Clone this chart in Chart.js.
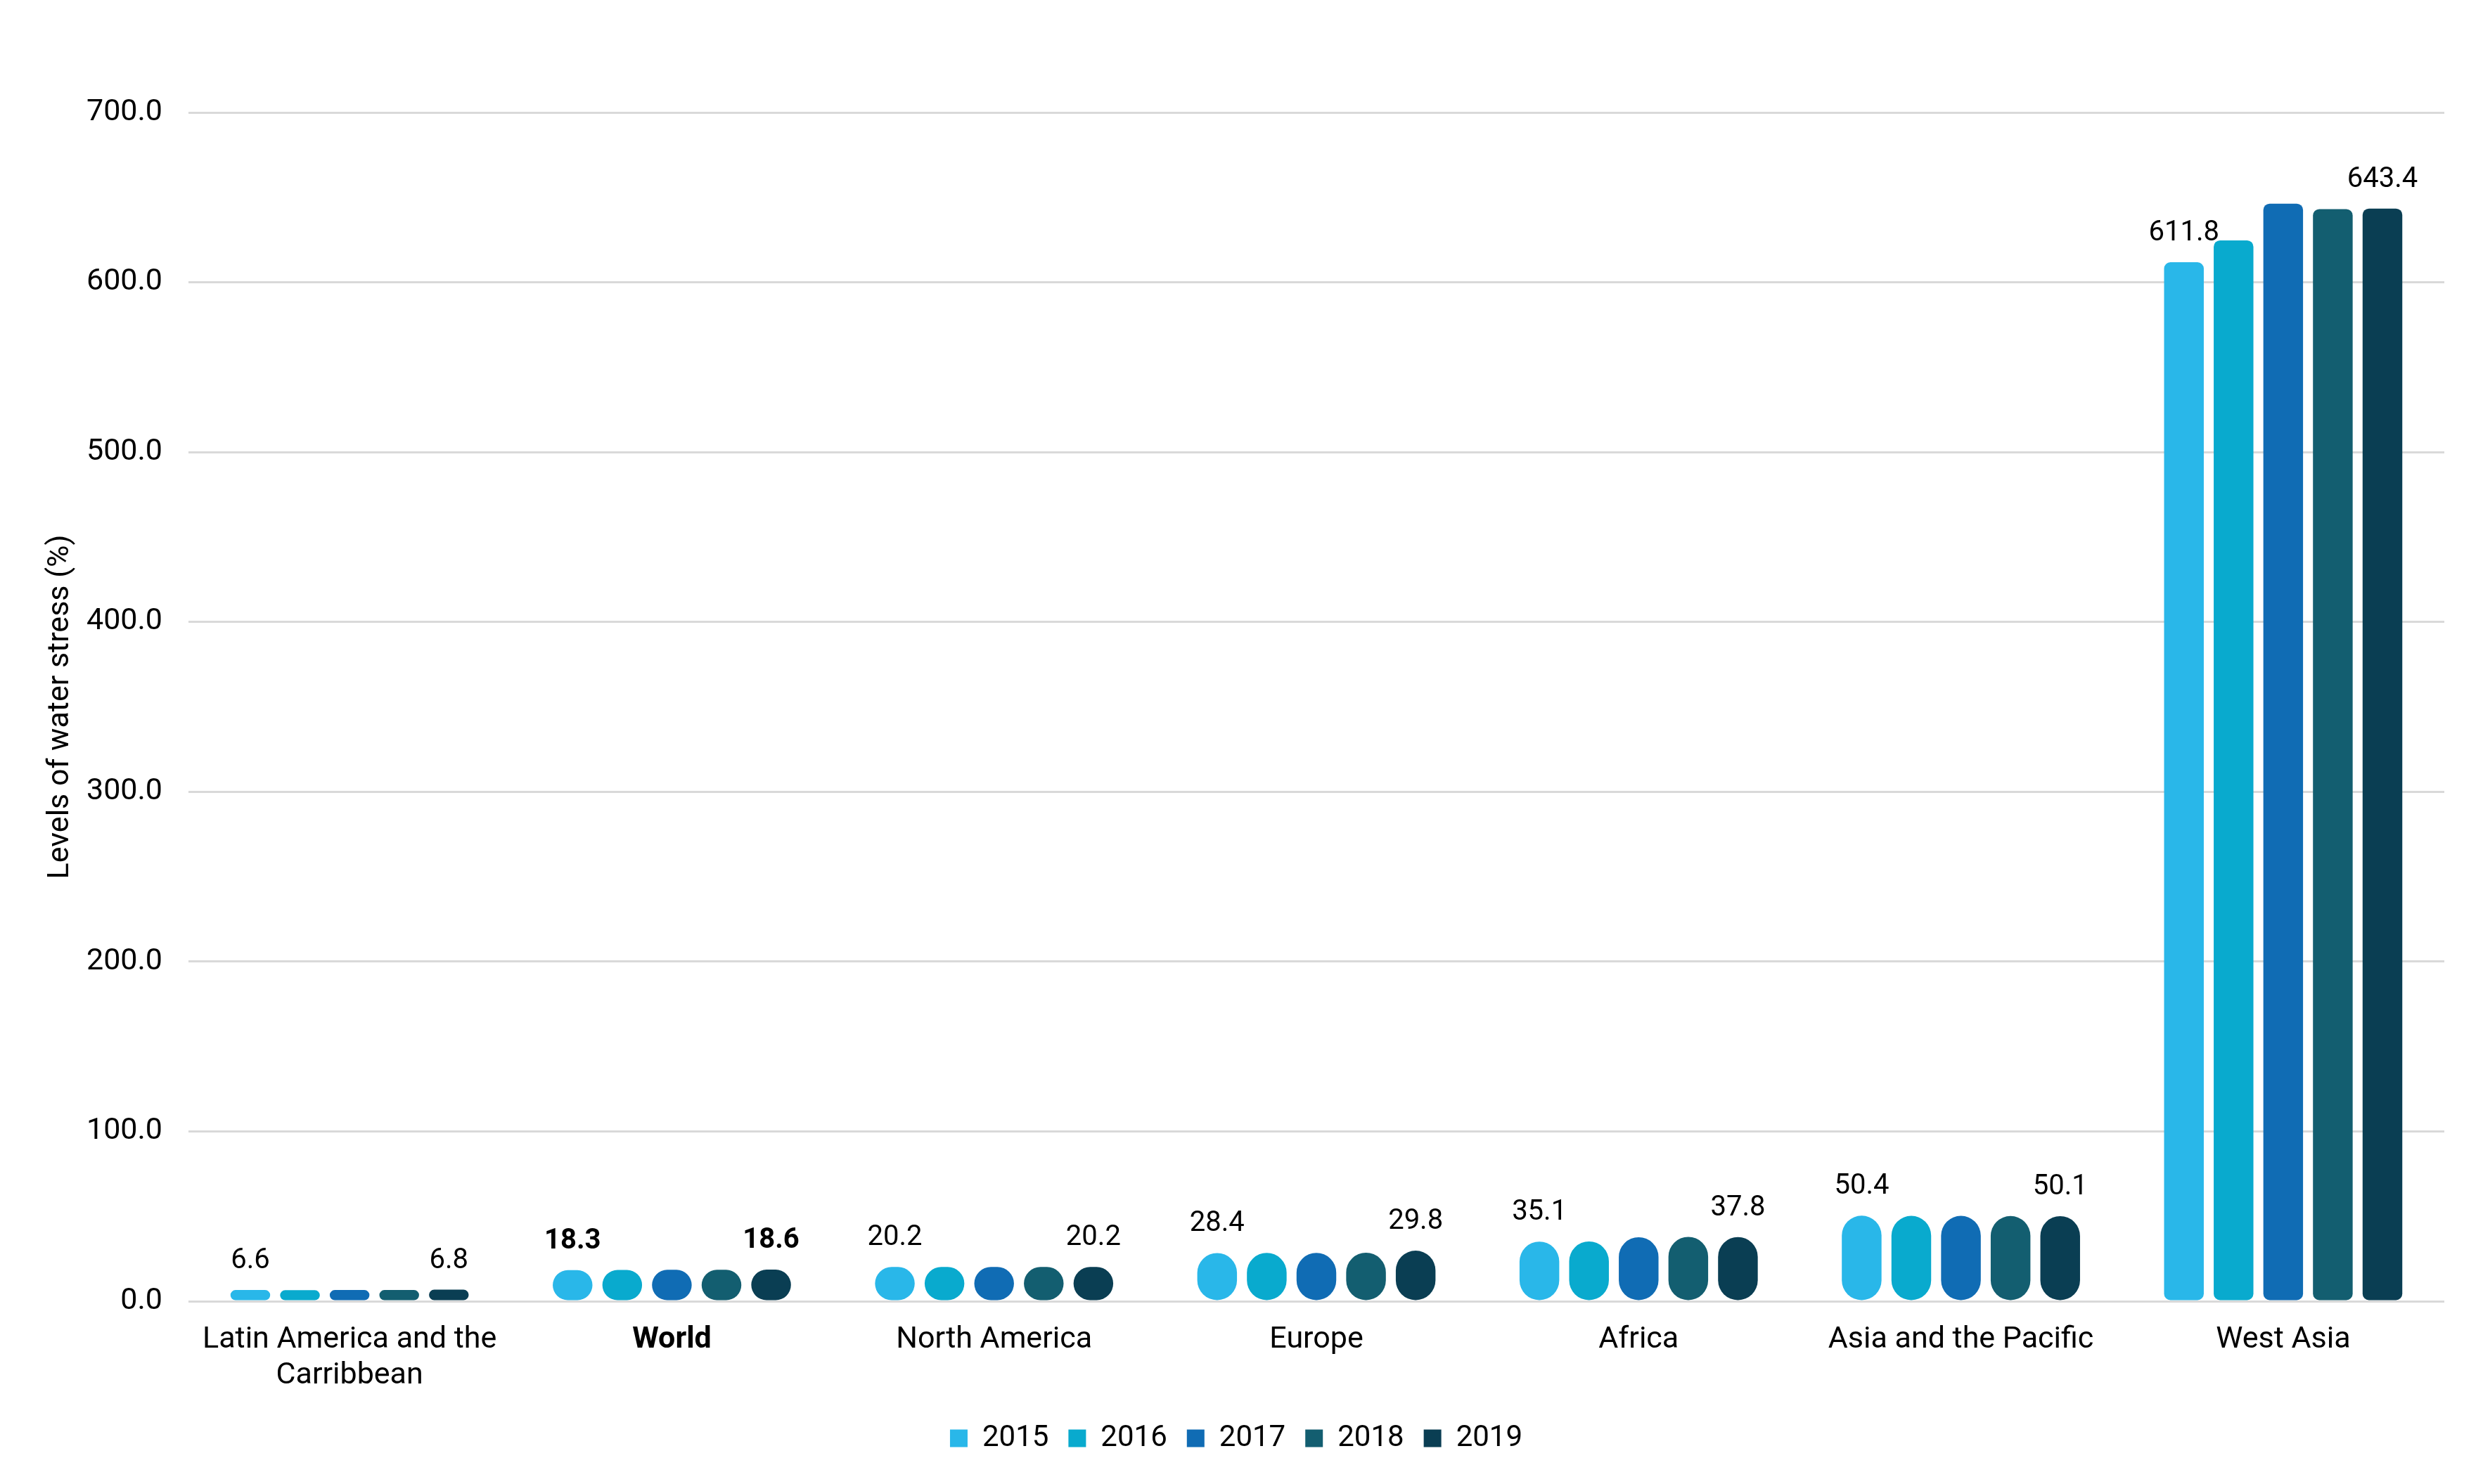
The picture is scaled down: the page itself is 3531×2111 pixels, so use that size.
<!DOCTYPE html>
<html>
<head>
<meta charset="utf-8">
<script src="https://cdn.jsdelivr.net/npm/chart.js@4.4.1/dist/chart.umd.min.js"></script>
<style>
  html, body { margin: 0; padding: 0; background: #fff; }
  #wrap { width: 3531px; height: 2111px; position: relative; }
</style>
</head>
<body>
<div id="wrap"><canvas id="waterChart"></canvas></div>
<script>
/////////////////////////////// data //////////////////////////////////

const categories = [
    ['Latin America and the', 'Carribbean'],
    'World',
    'North America',
    'Europe',
    'Africa',
    'Asia and the Pacific',
    'West Asia'
];
const years = ['2015', '2016', '2017', '2018', '2019'];

const v2015 = [6.6, 18.3, 20.2, 28.4, 35.1, 50.4, 611.8];
const v2016 = [6.5, 18.4, 20.2, 28.5, 35.2, 50.3, 624.7];
const v2017 = [6.6, 18.5, 20.2, 28.5, 37.7, 50.3, 646.3];
const v2018 = [6.6, 18.5, 20.2, 28.6, 37.9, 50.2, 643.1];
const v2019 = [6.8, 18.6, 20.2, 29.8, 37.8, 50.1, 643.4];

const yTicks = [0, 100, 200, 300, 400, 500, 600, 700];

const colors = ['#29B7E9', '#09AACE', '#106CB4', '#135E70', '#0A3E53'];

/////////////////////////////// chart //////////////////////////////////

Chart.defaults.font.family = 'Roboto';
Chart.defaults.color = '#000';

// labels above the first and last year only, like the original
const endLabels = {
    id: 'endLabels',
    afterDatasetsDraw(chart) {
        const ctx = chart.ctx;
        const last = chart.data.datasets.length - 1;
        ctx.save();
        ctx.fillStyle = '#000';
        ctx.textAlign = 'center';
        ctx.textBaseline = 'alphabetic';
        [0, last].forEach(di => {
            const meta = chart.getDatasetMeta(di);
            meta.data.forEach((bar, i) => {
                const bold = categories[i] === 'World';
                ctx.font = (bold ? 'bold ' : '') + '40px Roboto';
                ctx.fillText(chart.data.datasets[di].data[i].toFixed(1), bar.x, bar.y - 31);
            });
        });
        ctx.restore();
    }
};

var seriesList = [v2015, v2016, v2017, v2018, v2019];

var datasets = seriesList.map((data, i) => ({
    label: years[i],
    data: data,
    backgroundColor: colors[i],
    borderWidth: 0,
    borderSkipped: false,
    borderRadius: c => (c.raw > 100 ? 9 : 40),
    categoryPercentage: 0.77,
    barPercentage: 0.8
}));

var ctx = document.getElementById('waterChart').getContext('2d');

new Chart(ctx, {
    type: 'bar',
    data: {
        labels: categories,
        datasets: datasets
    },
    options: {
        animation: false,
        responsive: true,
        maintainAspectRatio: false,
        devicePixelRatio: 1,
        layout: {
            padding: { top: 160, right: 55, bottom: 34, left: 40 }
        },
        scales: {
            x: {
                grid: { display: false, drawTicks: false },
                border: { display: false },
                ticks: {
                    padding: 29,
                    maxRotation: 0,
                    autoSkip: false,
                    font: c => ({ size: 43, lineHeight: 1.2, weight: c.index === 1 ? 'bold' : 'normal' })
                },
                afterFit: axis => { axis.height = 146; }
            },
            y: {
                min: 0,
                max: 700,
                afterBuildTicks: axis => { axis.ticks = yTicks.map(v => ({ value: v })); },
                grid: { color: '#D9D9D9', lineWidth: 3, drawTicks: false },
                border: { display: false },
                ticks: {
                    padding: 37,
                    font: { size: 43 },
                    callback: v => v.toFixed(1)
                },
                title: {
                    display: true,
                    text: 'Levels of water stress (%)',
                    font: { size: 43 },
                    padding: { top: 20, bottom: 0 }
                },
                afterFit: axis => { axis.width = 228; }
            }
        },
        plugins: {
            legend: {
                position: 'bottom',
                labels: {
                    boxWidth: 25,
                    boxHeight: 25,
                    padding: 28,
                    font: { size: 42 }
                }
            },
            tooltip: { enabled: false }
        }
    },
    plugins: [endLabels]
});
</script>
</body>
</html>
